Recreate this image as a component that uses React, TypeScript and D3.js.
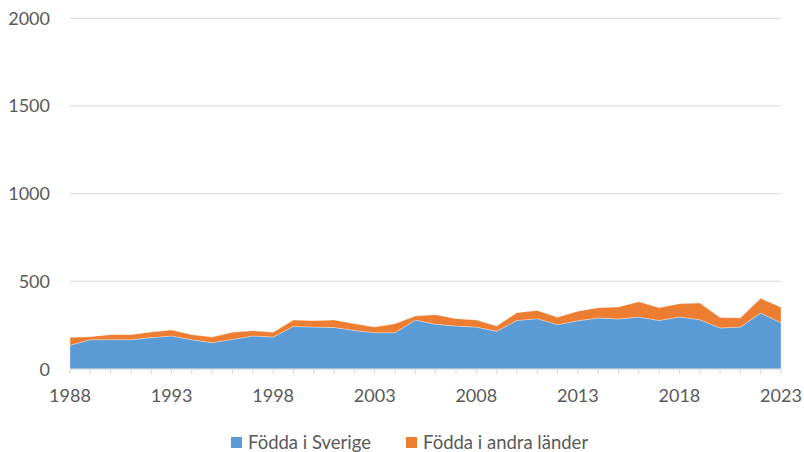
import React from "react";
import * as d3 from "d3";

const years = d3.range(1988, 2024);
// one value per year
const swedenBorn = [
  135, 167, 167, 167, 179, 188, 167, 150, 169, 188, 182, 243, 239, 237, 220, 207, 207, 279,
  255, 245, 239, 215, 277, 287, 253, 275, 291, 285, 296, 277, 296, 281, 234, 239, 319, 264,
];
const total = [
  180, 184, 196, 196, 211, 222, 196, 182, 209, 218, 209, 279, 275, 279, 258, 239, 258, 302,
  310, 287, 279, 245, 321, 334, 295, 329, 350, 353, 384, 350, 372, 376, 293, 291, 403, 352,
];
const foreignBorn = total.map((t, i) => t - swedenBorn[i]);
const yTicks = [0, 500, 1000, 1500, 2000];
const labelYears = [1988, 1993, 1998, 2003, 2008, 2013, 2018, 2023];
const seriesNames = ["Födda i Sverige", "Födda i andra länder"];
const colors = ["#5B9BD5", "#ED7D31"];

const W = 804;
const H = 452;
const font = "Lato, 'Open Sans', sans-serif";

export default function App() {
  const x = d3.scaleLinear().domain([1988, 2023]).range([70, 781]);
  const y = d3.scaleLinear().domain([0, 2000]).range([369, 18.3]);

  const rows = years.map((yr, i) => ({ year: yr, a: swedenBorn[i], b: foreignBorn[i] }));
  const stacked = d3.stack<any>().keys(["a", "b"])(rows);
  const area = d3
    .area<any>()
    .x((d) => x(d.data.year))
    .y0((d) => y(d[0]))
    .y1((d) => y(d[1]));

  return (
    <svg
      width={W}
      height={H}
      style={{ position: "absolute", left: 0, top: 0, background: "#fff" }}
      fontFamily={font}
    >
      {yTicks.map((t) => (
        <g key={t}>
          <line x1={70} x2={781} y1={y(t)} y2={y(t)} stroke="#d9d9d9" strokeWidth={1} />
          <text x={50} y={y(t) + 6.5} textAnchor="end" fontSize={18} fill="#595959">
            {t}
          </text>
        </g>
      ))}
      {stacked.map((s, i) => (
        <path key={s.key} d={area(s) || ""} fill={colors[i]} stroke="#fff" strokeOpacity={0.5} strokeWidth={0.6} />
      ))}
      <line x1={70} x2={781} y1={y(0)} y2={y(0)} stroke="#d9d9d9" />
      {years.map((yr) => (
        <line key={yr} x1={x(yr)} x2={x(yr)} y1={y(0)} y2={y(0) + 5} stroke="#d9d9d9" />
      ))}
      {labelYears.map((yr) => (
        <text key={yr} x={x(yr)} y={402} textAnchor="middle" fontSize={18} fill="#595959">
          {yr}
        </text>
      ))}
      <g>
        <rect x={231} y={437} width={11} height={11} fill={colors[0]} />
        <text x={248} y={449} fontSize={18.5} fill="#595959">
          {seriesNames[0]}
        </text>
        <rect x={406} y={437} width={11} height={11} fill={colors[1]} />
        <text x={423} y={449} fontSize={18.5} fill="#595959">
          {seriesNames[1]}
        </text>
      </g>
    </svg>
  );
}
